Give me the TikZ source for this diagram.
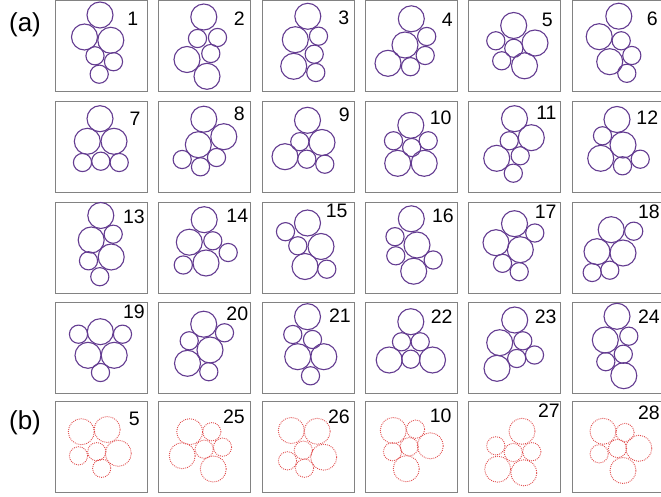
\documentclass[tikz,border=0pt]{standalone}
\usepackage{fontspec}
\setmainfont{Liberation Sans}
\definecolor{circ}{RGB}{100,60,145}
\definecolor{dotc}{RGB}{225,75,75}
\definecolor{boxc}{RGB}{130,130,130}
\tikzset{
 boxst/.style={draw=boxc, line width=0.9pt},
 solidc/.style={draw=circ, line width=1.1pt},
 dotcirc/.style={draw=dotc, line width=0.9pt, dash pattern=on 0.9pt off 1.1pt},
 numlab/.style={anchor=north east, inner sep=0pt, font=\fontsize{19.5}{19.5}\selectfont},
 partlab/.style={inner sep=0pt, font=\fontsize{26}{26}\selectfont}
}
\newcommand\Rb{13pt}
\newcommand\Rs{9.1pt}
\newcommand\pnl[8]{%
 \begin{scope}[shift={(#1,#2)}]
 \draw[boxst] (0,0) rectangle (92,91);
 \foreach \px/\py/\pr in {#4} {\draw[#3] (\px,\py) circle [radius=\pr];}
 \end{scope}
 \node[numlab] (#8) at (#6,#7) {#5};}
\begin{document}
\begin{tikzpicture}[x=1pt,y=-1pt]
\fill[white] (0,0) rectangle (661,497);
\useasboundingbox (0,0) rectangle (661,497);
\node[partlab] (pa) at (25,24.5) {(a)};
\node[partlab] (pb) at (25,422.5) {(b)};
% row 1
\pnl{55}{0.5}{solidc}{45/14.5/\Rb, 29.5/36.5/\Rb, 55.8/39.8/\Rb, 40/55.3/\Rs, 58.5/61.2/\Rs, 44.2/73.7/\Rs}{1}{138.5}{12}{n1}
\pnl{158}{0.5}{solidc}{45.8/16.5/\Rb, 39.5/38/\Rs, 59.5/37/\Rs, 52.8/53/\Rs, 29/59/\Rb, 49/75.8/\Rb}{2}{245}{11.7}{n2}
\pnl{262}{0.5}{solidc}{45.8/15.8/\Rb, 33.3/39.2/\Rb, 56.5/35.7/\Rs, 52.2/53.7/\Rs, 31.7/65.8/\Rb, 53.8/72/\Rs}{3}{349.5}{10.7}{n3}
\pnl{365}{0.5}{solidc}{46.3/18.3/\Rb, 40/44.5/\Rb, 61.7/36/\Rs, 60.2/55/\Rs, 23/62.8/\Rb, 45.5/66.2/\Rs}{4}{453}{13.3}{n4}
\pnl{468.5}{0.5}{solidc}{45.2/25/\Rb, 27.3/40.3/\Rs, 45.3/47.8/\Rs, 66.5/42.5/\Rb, 33.2/60.3/\Rs, 56/65.3/\Rb}{5}{553}{12.7}{n5}
\pnl{572.5}{0.5}{solidc}{46.3/15.7/\Rb, 26.7/36.2/\Rb, 48.7/40.3/\Rs, 37.2/61.2/\Rb, 59.3/55/\Rs, 54.3/72.8/\Rs}{6}{658}{11.7}{n6}
% row 2
\pnl{55}{101}{solidc}{45/17.7/\Rb, 32.3/40.3/\Rb, 59/40.3/\Rb, 27.5/61.5/\Rs, 45.8/60.2/\Rs, 64.2/61.5/\Rs}{7}{140.7}{111.7}{n7}
\pnl{158}{101}{solidc}{45.8/18.2/\Rb, 65.8/35.7/\Rb, 40.3/43.7/\Rb, 24.2/58.5/\Rs, 42.5/65.8/\Rs, 58.5/56.5/\Rs}{8}{245}{106.7}{n8}
\pnl{262}{101}{solidc}{45.5/19.3/\Rb, 37.8/40.7/\Rs, 60/41.5/\Rb, 23/55.7/\Rb, 44.8/58.2/\Rs, 62.8/63.2/\Rs}{9}{350}{107.3}{n9}
\pnl{365}{101}{solidc}{45.8/24.3/\Rb, 28.5/39.8/\Rs, 46.7/46.5/\Rs, 63.2/39.8/\Rs, 32.7/62.3/\Rb, 59.2/62.3/\Rb}{10}{451.7}{111}{n10}
\pnl{468.5}{101}{solidc}{46/17.7/\Rb, 62.8/36.7/\Rb, 40.7/39.8/\Rs, 51.7/54.8/\Rs, 28.2/57.3/\Rb, 44.8/72.2/\Rs}{11}{556.7}{105.7}{n11}
\pnl{572.5}{101}{solidc}{44.5/18.5/\Rb, 30/34.8/\Rs, 50.5/44/\Rb, 28.2/57.3/\Rb, 50/64.8/\Rs, 67.7/58.2/\Rs}{12}{658.3}{111}{n12}
% row 3
\pnl{55}{202}{solidc}{45.8/13.5/\Rb, 36.2/38/\Rb, 58.2/32.2/\Rs, 56.2/55/\Rb, 33.5/58.8/\Rs, 44.8/74.7/\Rs}{13}{145}{209.3}{n13}
\pnl{158}{202}{solidc}{46.2/17.7/\Rb, 31.3/40.2/\Rb, 54.8/38.8/\Rs, 70.2/50.5/\Rs, 25.3/63/\Rs, 48/61/\Rb}{14}{248.3}{209.3}{n14}
\pnl{262}{202}{solidc}{23.5/29.7/\Rs, 45.5/21/\Rb, 35.8/43.8/\Rs, 59/44.5/\Rb, 43/64.5/\Rb, 64.8/67.2/\Rs}{15}{347.7}{204}{n15}
\pnl{365}{202}{solidc}{46.3/16.8/\Rb, 30/34.7/\Rs, 52/43/\Rb, 30.8/53.8/\Rs, 48.7/69.2/\Rb, 68.2/58/\Rs}{16}{454}{208.3}{n16}
\pnl{468.5}{202}{solidc}{46/21.7/\Rb, 66.3/31/\Rs, 27.5/40.7/\Rb, 51.8/47.7/\Rb, 34/61.3/\Rs, 50.7/69.7/\Rs}{17}{556.7}{205}{n17}
\pnl{572.5}{202}{solidc}{38.7/27.7/\Rb, 61.2/29.2/\Rs, 24.5/49.7/\Rb, 50.5/51/\Rb, 19.7/70.5/\Rs, 37.3/68.2/\Rs}{18}{660}{205}{n18}
% row 4
\pnl{55}{302}{solidc}{45.3/29.7/\Rb, 23.5/32.2/\Rs, 67.5/32.2/\Rs, 33/53.3/\Rb, 59.2/53.3/\Rb, 45.5/70.5/\Rs}{19}{145}{305}{n19}
\pnl{158}{302}{solidc}{45.7/22.2/\Rb, 66.5/30.8/\Rs, 31.2/38.8/\Rs, 52/48/\Rb, 29.5/61.3/\Rb, 50.8/69.7/\Rs}{20}{248.3}{306.7}{n20}
\pnl{262}{302}{solidc}{45.5/14.7/\Rb, 30.8/32.5/\Rs, 50.5/37.5/\Rs, 35.7/54.7/\Rb, 61.8/54.7/\Rb, 48.5/73.8/\Rs}{21}{351}{308.3}{n21}
\pnl{365}{302}{solidc}{45.8/19.7/\Rb, 36.5/39.8/\Rs, 55.2/39.8/\Rs, 45.8/57.2/\Rs, 24.2/58/\Rb, 67.5/58/\Rb}{22}{452.7}{310}{n22}
\pnl{468.5}{302}{solidc}{46.2/18/\Rb, 31.2/40.7/\Rb, 54.3/38.8/\Rs, 48.2/56.5/\Rs, 66/53/\Rs, 28.5/66.3/\Rb}{23}{556.7}{310}{n23}
\pnl{572.5}{302}{solidc}{44.5/14.3/\Rb, 32.8/38/\Rb, 56.3/34.2/\Rs, 50.8/52.2/\Rs, 33.3/59.7/\Rs, 51.3/73.7/\Rb}{24}{660}{310}{n24}
% row 5
\pnl{55}{401}{dotcirc}{26.3/30.7/\Rb, 52.2/28.5/\Rb, 23.5/54.8/\Rs, 41.8/50.7/\Rs, 63.3/52.3/\Rb, 46.7/67.3/\Rs}{5}{140}{411.7}{m5}
\pnl{158}{401}{dotcirc}{31.7/30.7/\Rb, 53.8/30.7/\Rs, 24.2/54.7/\Rb, 46.2/48.2/\Rs, 64.5/46.2/\Rs, 55.3/68/\Rb}{25}{245}{410}{n25}
\pnl{262}{401}{dotcirc}{29.3/29.5/\Rb, 55.2/30.3/\Rb, 41.3/49.2/\Rs, 61.7/56.2/\Rb, 25.5/59.8/\Rs, 42.5/67.2/\Rs}{26}{350}{410}{n26}
\pnl{365}{401}{dotcirc}{28.3/29.5/\Rb, 50.5/28.2/\Rs, 27.5/50.7/\Rs, 44.2/45.7/\Rs, 65.3/44.8/\Rb, 41.3/67.7/\Rb}{10}{451.7}{408.3}{m10}
\pnl{468.5}{401}{dotcirc}{53.5/30.3/\Rb, 27.3/44.8/\Rs, 44.8/51.5/\Rs, 63.3/50.7/\Rs, 29.2/68.2/\Rb, 55.3/71.8/\Rb}{27}{560}{403.3}{n27}
\pnl{572.5}{401}{dotcirc}{30.5/30.3/\Rb, 52.5/31.5/\Rs, 26.7/52.8/\Rs, 45/47.5/\Rs, 66.3/47.3/\Rb, 50.5/69.5/\Rb}{28}{660}{405.7}{n28}
\end{tikzpicture}
\end{document}
